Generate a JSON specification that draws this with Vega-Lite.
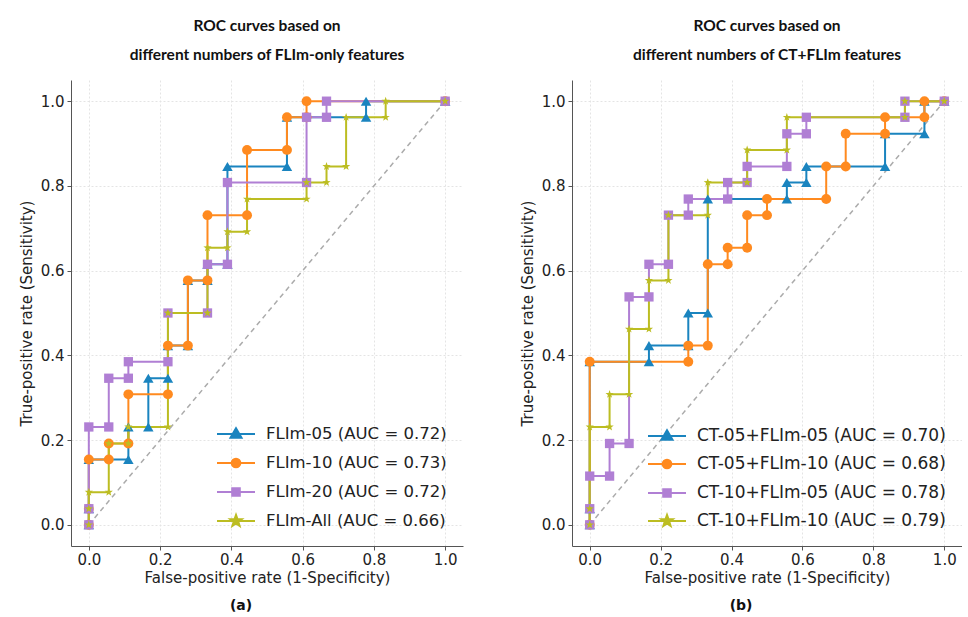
{
  "$schema": "https://vega.github.io/schema/vega-lite/v6.json",
  "background": "white",
  "padding": {"left": 19, "top": 18, "right": 0, "bottom": 0},
  "config": {
    "view": {"stroke": null},
    "axis": {
      "labelFont": "DejaVu Sans", "labelFontSize": 15, "labelColor": "#222",
      "titleFont": "DejaVu Sans", "titleFontSize": 15, "titleFontWeight": "normal", "titleColor": "#222",
      "domainColor": "#555", "tickColor": "#555", "tickSize": 4, "labelPadding": 3,
      "gridColor": "#e4e4e4", "gridDash": [2, 2], "gridWidth": 1
    },
    "axisX": {"titlePadding": 3, "labelPadding": 2},
    "axisY": {"titlePadding": 6},
    "title": {"font": "Lato", "fontSize": 15.5, "fontWeight": "bold", "color": "#111", "offset": 17, "lineHeight": 29, "anchor": "middle"}
  },
  "datasets": {
    "left": [
      {"m": "FLIm-05 (AUC = 0.72)", "i": 0, "x": 0, "y": 0},
      {"m": "FLIm-05 (AUC = 0.72)", "i": 1, "x": 0, "y": 0.038},
      {"m": "FLIm-05 (AUC = 0.72)", "i": 2, "x": 0, "y": 0.154},
      {"m": "FLIm-05 (AUC = 0.72)", "i": 3, "x": 0.111, "y": 0.154},
      {"m": "FLIm-05 (AUC = 0.72)", "i": 4, "x": 0.111, "y": 0.231},
      {"m": "FLIm-05 (AUC = 0.72)", "i": 5, "x": 0.167, "y": 0.231},
      {"m": "FLIm-05 (AUC = 0.72)", "i": 6, "x": 0.167, "y": 0.346},
      {"m": "FLIm-05 (AUC = 0.72)", "i": 7, "x": 0.222, "y": 0.346},
      {"m": "FLIm-05 (AUC = 0.72)", "i": 8, "x": 0.222, "y": 0.423},
      {"m": "FLIm-05 (AUC = 0.72)", "i": 9, "x": 0.278, "y": 0.423},
      {"m": "FLIm-05 (AUC = 0.72)", "i": 10, "x": 0.278, "y": 0.577},
      {"m": "FLIm-05 (AUC = 0.72)", "i": 11, "x": 0.333, "y": 0.577},
      {"m": "FLIm-05 (AUC = 0.72)", "i": 12, "x": 0.333, "y": 0.615},
      {"m": "FLIm-05 (AUC = 0.72)", "i": 13, "x": 0.389, "y": 0.615},
      {"m": "FLIm-05 (AUC = 0.72)", "i": 14, "x": 0.389, "y": 0.846},
      {"m": "FLIm-05 (AUC = 0.72)", "i": 15, "x": 0.556, "y": 0.846},
      {"m": "FLIm-05 (AUC = 0.72)", "i": 16, "x": 0.556, "y": 0.962},
      {"m": "FLIm-05 (AUC = 0.72)", "i": 17, "x": 0.778, "y": 0.962},
      {"m": "FLIm-05 (AUC = 0.72)", "i": 18, "x": 0.778, "y": 1},
      {"m": "FLIm-05 (AUC = 0.72)", "i": 19, "x": 1, "y": 1},
      {"m": "FLIm-10 (AUC = 0.73)", "i": 0, "x": 0, "y": 0},
      {"m": "FLIm-10 (AUC = 0.73)", "i": 1, "x": 0, "y": 0.038},
      {"m": "FLIm-10 (AUC = 0.73)", "i": 2, "x": 0, "y": 0.154},
      {"m": "FLIm-10 (AUC = 0.73)", "i": 3, "x": 0.056, "y": 0.154},
      {"m": "FLIm-10 (AUC = 0.73)", "i": 4, "x": 0.056, "y": 0.192},
      {"m": "FLIm-10 (AUC = 0.73)", "i": 5, "x": 0.111, "y": 0.192},
      {"m": "FLIm-10 (AUC = 0.73)", "i": 6, "x": 0.111, "y": 0.308},
      {"m": "FLIm-10 (AUC = 0.73)", "i": 7, "x": 0.222, "y": 0.308},
      {"m": "FLIm-10 (AUC = 0.73)", "i": 8, "x": 0.222, "y": 0.423},
      {"m": "FLIm-10 (AUC = 0.73)", "i": 9, "x": 0.278, "y": 0.423},
      {"m": "FLIm-10 (AUC = 0.73)", "i": 10, "x": 0.278, "y": 0.577},
      {"m": "FLIm-10 (AUC = 0.73)", "i": 11, "x": 0.333, "y": 0.577},
      {"m": "FLIm-10 (AUC = 0.73)", "i": 12, "x": 0.333, "y": 0.731},
      {"m": "FLIm-10 (AUC = 0.73)", "i": 13, "x": 0.444, "y": 0.731},
      {"m": "FLIm-10 (AUC = 0.73)", "i": 14, "x": 0.444, "y": 0.885},
      {"m": "FLIm-10 (AUC = 0.73)", "i": 15, "x": 0.556, "y": 0.885},
      {"m": "FLIm-10 (AUC = 0.73)", "i": 16, "x": 0.556, "y": 0.962},
      {"m": "FLIm-10 (AUC = 0.73)", "i": 17, "x": 0.611, "y": 0.962},
      {"m": "FLIm-10 (AUC = 0.73)", "i": 18, "x": 0.611, "y": 1},
      {"m": "FLIm-10 (AUC = 0.73)", "i": 19, "x": 1, "y": 1},
      {"m": "FLIm-20 (AUC = 0.72)", "i": 0, "x": 0, "y": 0},
      {"m": "FLIm-20 (AUC = 0.72)", "i": 1, "x": 0, "y": 0.038},
      {"m": "FLIm-20 (AUC = 0.72)", "i": 2, "x": 0, "y": 0.231},
      {"m": "FLIm-20 (AUC = 0.72)", "i": 3, "x": 0.056, "y": 0.231},
      {"m": "FLIm-20 (AUC = 0.72)", "i": 4, "x": 0.056, "y": 0.346},
      {"m": "FLIm-20 (AUC = 0.72)", "i": 5, "x": 0.111, "y": 0.346},
      {"m": "FLIm-20 (AUC = 0.72)", "i": 6, "x": 0.111, "y": 0.385},
      {"m": "FLIm-20 (AUC = 0.72)", "i": 7, "x": 0.222, "y": 0.385},
      {"m": "FLIm-20 (AUC = 0.72)", "i": 8, "x": 0.222, "y": 0.5},
      {"m": "FLIm-20 (AUC = 0.72)", "i": 9, "x": 0.333, "y": 0.5},
      {"m": "FLIm-20 (AUC = 0.72)", "i": 10, "x": 0.333, "y": 0.615},
      {"m": "FLIm-20 (AUC = 0.72)", "i": 11, "x": 0.389, "y": 0.615},
      {"m": "FLIm-20 (AUC = 0.72)", "i": 12, "x": 0.389, "y": 0.808},
      {"m": "FLIm-20 (AUC = 0.72)", "i": 13, "x": 0.611, "y": 0.808},
      {"m": "FLIm-20 (AUC = 0.72)", "i": 14, "x": 0.611, "y": 0.962},
      {"m": "FLIm-20 (AUC = 0.72)", "i": 15, "x": 0.667, "y": 0.962},
      {"m": "FLIm-20 (AUC = 0.72)", "i": 16, "x": 0.667, "y": 1},
      {"m": "FLIm-20 (AUC = 0.72)", "i": 17, "x": 1, "y": 1},
      {"m": "FLIm-All (AUC = 0.66)", "i": 0, "x": 0, "y": 0},
      {"m": "FLIm-All (AUC = 0.66)", "i": 1, "x": 0, "y": 0.038},
      {"m": "FLIm-All (AUC = 0.66)", "i": 2, "x": 0, "y": 0.077},
      {"m": "FLIm-All (AUC = 0.66)", "i": 3, "x": 0.056, "y": 0.077},
      {"m": "FLIm-All (AUC = 0.66)", "i": 4, "x": 0.056, "y": 0.192},
      {"m": "FLIm-All (AUC = 0.66)", "i": 5, "x": 0.111, "y": 0.192},
      {"m": "FLIm-All (AUC = 0.66)", "i": 6, "x": 0.111, "y": 0.231},
      {"m": "FLIm-All (AUC = 0.66)", "i": 7, "x": 0.222, "y": 0.231},
      {"m": "FLIm-All (AUC = 0.66)", "i": 8, "x": 0.222, "y": 0.5},
      {"m": "FLIm-All (AUC = 0.66)", "i": 9, "x": 0.333, "y": 0.5},
      {"m": "FLIm-All (AUC = 0.66)", "i": 10, "x": 0.333, "y": 0.654},
      {"m": "FLIm-All (AUC = 0.66)", "i": 11, "x": 0.389, "y": 0.654},
      {"m": "FLIm-All (AUC = 0.66)", "i": 12, "x": 0.389, "y": 0.692},
      {"m": "FLIm-All (AUC = 0.66)", "i": 13, "x": 0.444, "y": 0.692},
      {"m": "FLIm-All (AUC = 0.66)", "i": 14, "x": 0.444, "y": 0.769},
      {"m": "FLIm-All (AUC = 0.66)", "i": 15, "x": 0.611, "y": 0.769},
      {"m": "FLIm-All (AUC = 0.66)", "i": 16, "x": 0.611, "y": 0.808},
      {"m": "FLIm-All (AUC = 0.66)", "i": 17, "x": 0.667, "y": 0.808},
      {"m": "FLIm-All (AUC = 0.66)", "i": 18, "x": 0.667, "y": 0.846},
      {"m": "FLIm-All (AUC = 0.66)", "i": 19, "x": 0.722, "y": 0.846},
      {"m": "FLIm-All (AUC = 0.66)", "i": 20, "x": 0.722, "y": 0.962},
      {"m": "FLIm-All (AUC = 0.66)", "i": 21, "x": 0.833, "y": 0.962},
      {"m": "FLIm-All (AUC = 0.66)", "i": 22, "x": 0.833, "y": 1},
      {"m": "FLIm-All (AUC = 0.66)", "i": 23, "x": 1, "y": 1}
    ],
    "right": [
      {"m": "CT-05+FLIm-05 (AUC = 0.70)", "i": 0, "x": 0, "y": 0},
      {"m": "CT-05+FLIm-05 (AUC = 0.70)", "i": 1, "x": 0, "y": 0.038},
      {"m": "CT-05+FLIm-05 (AUC = 0.70)", "i": 2, "x": 0, "y": 0.385},
      {"m": "CT-05+FLIm-05 (AUC = 0.70)", "i": 3, "x": 0.167, "y": 0.385},
      {"m": "CT-05+FLIm-05 (AUC = 0.70)", "i": 4, "x": 0.167, "y": 0.423},
      {"m": "CT-05+FLIm-05 (AUC = 0.70)", "i": 5, "x": 0.278, "y": 0.423},
      {"m": "CT-05+FLIm-05 (AUC = 0.70)", "i": 6, "x": 0.278, "y": 0.5},
      {"m": "CT-05+FLIm-05 (AUC = 0.70)", "i": 7, "x": 0.333, "y": 0.5},
      {"m": "CT-05+FLIm-05 (AUC = 0.70)", "i": 8, "x": 0.333, "y": 0.769},
      {"m": "CT-05+FLIm-05 (AUC = 0.70)", "i": 9, "x": 0.556, "y": 0.769},
      {"m": "CT-05+FLIm-05 (AUC = 0.70)", "i": 10, "x": 0.556, "y": 0.808},
      {"m": "CT-05+FLIm-05 (AUC = 0.70)", "i": 11, "x": 0.611, "y": 0.808},
      {"m": "CT-05+FLIm-05 (AUC = 0.70)", "i": 12, "x": 0.611, "y": 0.846},
      {"m": "CT-05+FLIm-05 (AUC = 0.70)", "i": 13, "x": 0.833, "y": 0.846},
      {"m": "CT-05+FLIm-05 (AUC = 0.70)", "i": 14, "x": 0.833, "y": 0.923},
      {"m": "CT-05+FLIm-05 (AUC = 0.70)", "i": 15, "x": 0.944, "y": 0.923},
      {"m": "CT-05+FLIm-05 (AUC = 0.70)", "i": 16, "x": 0.944, "y": 1},
      {"m": "CT-05+FLIm-05 (AUC = 0.70)", "i": 17, "x": 1, "y": 1},
      {"m": "CT-05+FLIm-10 (AUC = 0.68)", "i": 0, "x": 0, "y": 0},
      {"m": "CT-05+FLIm-10 (AUC = 0.68)", "i": 1, "x": 0, "y": 0.385},
      {"m": "CT-05+FLIm-10 (AUC = 0.68)", "i": 2, "x": 0.278, "y": 0.385},
      {"m": "CT-05+FLIm-10 (AUC = 0.68)", "i": 3, "x": 0.278, "y": 0.423},
      {"m": "CT-05+FLIm-10 (AUC = 0.68)", "i": 4, "x": 0.333, "y": 0.423},
      {"m": "CT-05+FLIm-10 (AUC = 0.68)", "i": 5, "x": 0.333, "y": 0.615},
      {"m": "CT-05+FLIm-10 (AUC = 0.68)", "i": 6, "x": 0.389, "y": 0.615},
      {"m": "CT-05+FLIm-10 (AUC = 0.68)", "i": 7, "x": 0.389, "y": 0.654},
      {"m": "CT-05+FLIm-10 (AUC = 0.68)", "i": 8, "x": 0.444, "y": 0.654},
      {"m": "CT-05+FLIm-10 (AUC = 0.68)", "i": 9, "x": 0.444, "y": 0.731},
      {"m": "CT-05+FLIm-10 (AUC = 0.68)", "i": 10, "x": 0.5, "y": 0.731},
      {"m": "CT-05+FLIm-10 (AUC = 0.68)", "i": 11, "x": 0.5, "y": 0.769},
      {"m": "CT-05+FLIm-10 (AUC = 0.68)", "i": 12, "x": 0.667, "y": 0.769},
      {"m": "CT-05+FLIm-10 (AUC = 0.68)", "i": 13, "x": 0.667, "y": 0.846},
      {"m": "CT-05+FLIm-10 (AUC = 0.68)", "i": 14, "x": 0.722, "y": 0.846},
      {"m": "CT-05+FLIm-10 (AUC = 0.68)", "i": 15, "x": 0.722, "y": 0.923},
      {"m": "CT-05+FLIm-10 (AUC = 0.68)", "i": 16, "x": 0.833, "y": 0.923},
      {"m": "CT-05+FLIm-10 (AUC = 0.68)", "i": 17, "x": 0.833, "y": 0.962},
      {"m": "CT-05+FLIm-10 (AUC = 0.68)", "i": 18, "x": 0.944, "y": 0.962},
      {"m": "CT-05+FLIm-10 (AUC = 0.68)", "i": 19, "x": 0.944, "y": 1},
      {"m": "CT-05+FLIm-10 (AUC = 0.68)", "i": 20, "x": 1, "y": 1},
      {"m": "CT-10+FLIm-05 (AUC = 0.78)", "i": 0, "x": 0, "y": 0},
      {"m": "CT-10+FLIm-05 (AUC = 0.78)", "i": 1, "x": 0, "y": 0.038},
      {"m": "CT-10+FLIm-05 (AUC = 0.78)", "i": 2, "x": 0, "y": 0.115},
      {"m": "CT-10+FLIm-05 (AUC = 0.78)", "i": 3, "x": 0.056, "y": 0.115},
      {"m": "CT-10+FLIm-05 (AUC = 0.78)", "i": 4, "x": 0.056, "y": 0.192},
      {"m": "CT-10+FLIm-05 (AUC = 0.78)", "i": 5, "x": 0.111, "y": 0.192},
      {"m": "CT-10+FLIm-05 (AUC = 0.78)", "i": 6, "x": 0.111, "y": 0.538},
      {"m": "CT-10+FLIm-05 (AUC = 0.78)", "i": 7, "x": 0.167, "y": 0.538},
      {"m": "CT-10+FLIm-05 (AUC = 0.78)", "i": 8, "x": 0.167, "y": 0.615},
      {"m": "CT-10+FLIm-05 (AUC = 0.78)", "i": 9, "x": 0.222, "y": 0.615},
      {"m": "CT-10+FLIm-05 (AUC = 0.78)", "i": 10, "x": 0.222, "y": 0.731},
      {"m": "CT-10+FLIm-05 (AUC = 0.78)", "i": 11, "x": 0.278, "y": 0.731},
      {"m": "CT-10+FLIm-05 (AUC = 0.78)", "i": 12, "x": 0.278, "y": 0.769},
      {"m": "CT-10+FLIm-05 (AUC = 0.78)", "i": 13, "x": 0.389, "y": 0.769},
      {"m": "CT-10+FLIm-05 (AUC = 0.78)", "i": 14, "x": 0.389, "y": 0.808},
      {"m": "CT-10+FLIm-05 (AUC = 0.78)", "i": 15, "x": 0.444, "y": 0.808},
      {"m": "CT-10+FLIm-05 (AUC = 0.78)", "i": 16, "x": 0.444, "y": 0.846},
      {"m": "CT-10+FLIm-05 (AUC = 0.78)", "i": 17, "x": 0.556, "y": 0.846},
      {"m": "CT-10+FLIm-05 (AUC = 0.78)", "i": 18, "x": 0.556, "y": 0.923},
      {"m": "CT-10+FLIm-05 (AUC = 0.78)", "i": 19, "x": 0.611, "y": 0.923},
      {"m": "CT-10+FLIm-05 (AUC = 0.78)", "i": 20, "x": 0.611, "y": 0.962},
      {"m": "CT-10+FLIm-05 (AUC = 0.78)", "i": 21, "x": 0.889, "y": 0.962},
      {"m": "CT-10+FLIm-05 (AUC = 0.78)", "i": 22, "x": 0.889, "y": 1},
      {"m": "CT-10+FLIm-05 (AUC = 0.78)", "i": 23, "x": 1, "y": 1},
      {"m": "CT-10+FLIm-10 (AUC = 0.79)", "i": 0, "x": 0, "y": 0},
      {"m": "CT-10+FLIm-10 (AUC = 0.79)", "i": 1, "x": 0, "y": 0.038},
      {"m": "CT-10+FLIm-10 (AUC = 0.79)", "i": 2, "x": 0, "y": 0.231},
      {"m": "CT-10+FLIm-10 (AUC = 0.79)", "i": 3, "x": 0.056, "y": 0.231},
      {"m": "CT-10+FLIm-10 (AUC = 0.79)", "i": 4, "x": 0.056, "y": 0.308},
      {"m": "CT-10+FLIm-10 (AUC = 0.79)", "i": 5, "x": 0.111, "y": 0.308},
      {"m": "CT-10+FLIm-10 (AUC = 0.79)", "i": 6, "x": 0.111, "y": 0.462},
      {"m": "CT-10+FLIm-10 (AUC = 0.79)", "i": 7, "x": 0.167, "y": 0.462},
      {"m": "CT-10+FLIm-10 (AUC = 0.79)", "i": 8, "x": 0.167, "y": 0.577},
      {"m": "CT-10+FLIm-10 (AUC = 0.79)", "i": 9, "x": 0.222, "y": 0.577},
      {"m": "CT-10+FLIm-10 (AUC = 0.79)", "i": 10, "x": 0.222, "y": 0.731},
      {"m": "CT-10+FLIm-10 (AUC = 0.79)", "i": 11, "x": 0.333, "y": 0.731},
      {"m": "CT-10+FLIm-10 (AUC = 0.79)", "i": 12, "x": 0.333, "y": 0.808},
      {"m": "CT-10+FLIm-10 (AUC = 0.79)", "i": 13, "x": 0.444, "y": 0.808},
      {"m": "CT-10+FLIm-10 (AUC = 0.79)", "i": 14, "x": 0.444, "y": 0.885},
      {"m": "CT-10+FLIm-10 (AUC = 0.79)", "i": 15, "x": 0.556, "y": 0.885},
      {"m": "CT-10+FLIm-10 (AUC = 0.79)", "i": 16, "x": 0.556, "y": 0.962},
      {"m": "CT-10+FLIm-10 (AUC = 0.79)", "i": 17, "x": 0.889, "y": 0.962},
      {"m": "CT-10+FLIm-10 (AUC = 0.79)", "i": 18, "x": 0.889, "y": 1},
      {"m": "CT-10+FLIm-10 (AUC = 0.79)", "i": 19, "x": 1, "y": 1}
    ],
    "diag": [{"x": 0, "y": 0}, {"x": 1, "y": 1}]
  },
  "spacing": 57,
  "resolve": {
    "scale": {"color": "independent", "shape": "independent", "size": "independent"},
    "legend": {"color": "independent", "shape": "independent", "size": "independent"}
  },
  "hconcat": [
    {
      "title": {"text": "(a)", "orient": "bottom", "font": "DejaVu Sans", "fontSize": 14, "fontWeight": "bold", "offset": 14, "lineHeight": 16},
      "resolve": {
        "scale": {"color": "independent", "shape": "independent", "size": "independent"},
        "legend": {"color": "independent", "shape": "independent", "size": "independent"}
      },
      "vconcat": [
        {
          "width": 392,
          "height": 466,
          "title": {"text": ["ROC curves based on", "different numbers of FLIm-only features"]},
          "layer": [
            {
              "data": {"name": "diag"},
              "mark": {"type": "line", "color": "#ababab", "strokeWidth": 1.5, "strokeDash": [5, 4]},
              "encoding": {
                "x": {"field": "x", "type": "quantitative", "scale": {"domain": [-0.05, 1.05], "nice": false, "zero": false}, "axis": {"values": [0, 0.2, 0.4, 0.6, 0.8, 1.0], "format": ".1f", "title": "False-positive rate (1-Specificity)"}},
                "y": {"field": "y", "type": "quantitative", "scale": {"domain": [-0.05, 1.05], "nice": false, "zero": false}, "axis": {"values": [0, 0.2, 0.4, 0.6, 0.8, 1.0], "format": ".1f", "title": "True-positive rate (Sensitivity)"}}
              }
            },
            {
              "data": {"name": "left"},
              "mark": {"type": "line", "strokeWidth": 2},
              "encoding": {
                "x": {"field": "x", "type": "quantitative"},
                "y": {"field": "y", "type": "quantitative"},
                "order": {"field": "i", "type": "quantitative"},
                "color": {"field": "m", "type": "nominal", "scale": {"range": ["#1a84bf", "#ff8a1f", "#b07fd4", "#bcbd22"]}, "legend": {
                  "title": null, "orient": "bottom-right", "offset": 16,
                  "labelFont": "DejaVu Sans", "labelFontSize": 16.5, "labelColor": "#222", "labelLimit": 400,
                  "symbolSize": 1444, "symbolStrokeWidth": 2, "labelOffset": 10, "rowPadding": -10,
                  "encode": {"symbols": {"update": {
                    "shape": {"signal": "['M-1,0L1,0M0,-0.3L0.29,0.2L-0.29,0.2Z','M-1,0L1,0M0.23,0A0.23,0.23 0 1,1 -0.23,0A0.23,0.23 0 1,1 0.23,0Z','M-1,0L1,0M-0.2,-0.2H0.2V0.2H-0.2Z','M-1,0L1,0M0,-0.32L0.076,-0.105L0.304,-0.099L0.124,0.04L0.188,0.259L0,0.13L-0.188,0.259L-0.124,0.04L-0.304,-0.099L-0.076,-0.105Z'][datum.index]"},
                    "fill": {"signal": "['#1a84bf','#ff8a1f','#b07fd4','#bcbd22'][datum.index]"},
                    "stroke": {"signal": "['#1a84bf','#ff8a1f','#b07fd4','#bcbd22'][datum.index]"},
                    "opacity": {"value": 1}
                  }}}
                }}
              }
            },
            {
              "data": {"name": "left"},
              "mark": {"type": "point", "filled": true, "opacity": 1},
              "encoding": {
                "x": {"field": "x", "type": "quantitative"},
                "y": {"field": "y", "type": "quantitative"},
                "color": {"field": "m", "type": "nominal"},
                "shape": {"field": "m", "type": "nominal", "scale": {"range": ["triangle-up", "circle", "square", "M0,-1L0.235,-0.324L0.951,-0.309L0.38,0.124L0.588,0.809L0,0.4L-0.588,0.809L-0.38,0.124L-0.951,-0.309L-0.235,-0.324Z"]}, "legend": null},
                "size": {"field": "m", "type": "nominal", "scale": {"range": [110, 75, 70, 220]}, "legend": null}
              }
            }
          ]
        }
      ]
    },
    {
      "title": {"text": "(b)", "orient": "bottom", "font": "DejaVu Sans", "fontSize": 14, "fontWeight": "bold", "offset": 14, "lineHeight": 16},
      "resolve": {
        "scale": {"color": "independent", "shape": "independent", "size": "independent"},
        "legend": {"color": "independent", "shape": "independent", "size": "independent"}
      },
      "vconcat": [
        {
          "width": 390,
          "height": 466,
          "title": {"text": ["ROC curves based on", "different numbers of CT+FLIm features"]},
          "layer": [
            {
              "data": {"name": "diag"},
              "mark": {"type": "line", "color": "#ababab", "strokeWidth": 1.5, "strokeDash": [5, 4]},
              "encoding": {
                "x": {"field": "x", "type": "quantitative", "scale": {"domain": [-0.05, 1.05], "nice": false, "zero": false}, "axis": {"values": [0, 0.2, 0.4, 0.6, 0.8, 1.0], "format": ".1f", "title": "False-positive rate (1-Specificity)"}},
                "y": {"field": "y", "type": "quantitative", "scale": {"domain": [-0.05, 1.05], "nice": false, "zero": false}, "axis": {"values": [0, 0.2, 0.4, 0.6, 0.8, 1.0], "format": ".1f", "title": "True-positive rate (Sensitivity)"}}
              }
            },
            {
              "data": {"name": "right"},
              "mark": {"type": "line", "strokeWidth": 2},
              "encoding": {
                "x": {"field": "x", "type": "quantitative"},
                "y": {"field": "y", "type": "quantitative"},
                "order": {"field": "i", "type": "quantitative"},
                "color": {"field": "m", "type": "nominal", "scale": {"range": ["#1a84bf", "#ff8a1f", "#b07fd4", "#bcbd22"]}, "legend": {
                  "title": null, "orient": "bottom-right", "offset": 16,
                  "labelFont": "DejaVu Sans", "labelFontSize": 17, "labelColor": "#222", "labelLimit": 400,
                  "symbolSize": 1444, "symbolStrokeWidth": 2, "labelOffset": 10, "rowPadding": -10,
                  "encode": {"symbols": {"update": {
                    "shape": {"signal": "['M-1,0L1,0M0,-0.3L0.29,0.2L-0.29,0.2Z','M-1,0L1,0M0.23,0A0.23,0.23 0 1,1 -0.23,0A0.23,0.23 0 1,1 0.23,0Z','M-1,0L1,0M-0.2,-0.2H0.2V0.2H-0.2Z','M-1,0L1,0M0,-0.32L0.076,-0.105L0.304,-0.099L0.124,0.04L0.188,0.259L0,0.13L-0.188,0.259L-0.124,0.04L-0.304,-0.099L-0.076,-0.105Z'][datum.index]"},
                    "fill": {"signal": "['#1a84bf','#ff8a1f','#b07fd4','#bcbd22'][datum.index]"},
                    "stroke": {"signal": "['#1a84bf','#ff8a1f','#b07fd4','#bcbd22'][datum.index]"},
                    "opacity": {"value": 1}
                  }}}
                }}
              }
            },
            {
              "data": {"name": "right"},
              "mark": {"type": "point", "filled": true, "opacity": 1},
              "encoding": {
                "x": {"field": "x", "type": "quantitative"},
                "y": {"field": "y", "type": "quantitative"},
                "color": {"field": "m", "type": "nominal"},
                "shape": {"field": "m", "type": "nominal", "scale": {"range": ["triangle-up", "circle", "square", "M0,-1L0.235,-0.324L0.951,-0.309L0.38,0.124L0.588,0.809L0,0.4L-0.588,0.809L-0.38,0.124L-0.951,-0.309L-0.235,-0.324Z"]}, "legend": null},
                "size": {"field": "m", "type": "nominal", "scale": {"range": [110, 75, 70, 220]}, "legend": null}
              }
            }
          ]
        }
      ]
    }
  ]
}
